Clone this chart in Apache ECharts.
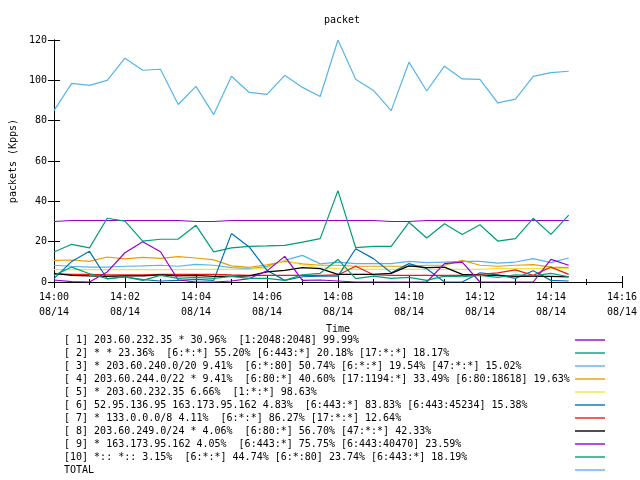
<!DOCTYPE html>
<html><head><meta charset="utf-8">
<script src="https://cdn.jsdelivr.net/npm/echarts@6/dist/echarts.min.js"></script>
<style>html,body{margin:0;padding:0;background:#fff}#c{width:640px;height:480px}</style>
</head><body><div id="c"></div>
<script>
const times = ['14:00:00','14:00:30','14:01:00','14:01:30','14:02:00','14:02:30','14:03:00','14:03:30','14:04:00','14:04:30',
  '14:05:00','14:05:30','14:06:00','14:06:30','14:07:00','14:07:30','14:08:00','14:08:30','14:09:00','14:09:30',
  '14:10:00','14:10:30','14:11:00','14:11:30','14:12:00','14:12:30','14:13:00','14:13:30','14:14:00','14:14:30'];
const xTickLabels = ['14:00','14:02','14:04','14:06','14:08','14:10','14:12','14:14','14:16'];
const dateLabel = '08/14';
const seriesNames = [
  '[ 1] 203.60.232.35 * 30.96%  [1:2048:2048] 99.99%',
  '[ 2] * * 23.36%  [6:*:*] 55.20% [6:443:*] 20.18% [17:*:*] 18.17%',
  '[ 3] * 203.60.240.0/20 9.41%  [6:*:80] 50.74% [6:*:*] 19.54% [47:*:*] 15.02%',
  '[ 4] 203.60.244.0/22 * 9.41%  [6:80:*] 40.60% [17:1194:*] 33.49% [6:80:18618] 19.63%',
  '[ 5] * 203.60.232.35 6.66%  [1:*:*] 98.63%',
  '[ 6] 52.95.136.95 163.173.95.162 4.83%  [6:443:*] 83.83% [6:443:45234] 15.38%',
  '[ 7] * 133.0.0.0/8 4.11%  [6:*:*] 86.27% [17:*:*] 12.64%',
  '[ 8] 203.60.249.0/24 * 4.06%  [6:80:*] 56.70% [47:*:*] 42.33%',
  '[ 9] * 163.173.95.162 4.05%  [6:443:*] 75.75% [6:443:40470] 23.59%',
  '[10] *:: *:: 3.15%  [6:*:*] 44.74% [6:*:80] 23.74% [6:443:*] 18.19%',
  'TOTAL'
];
const s1 = [30.0,30.5,30.5,30.5,30.5,30.5,30.5,30.5,30.0,30.0,30.5,30.5,30.5,30.5,30.5,30.5,30.5,30.5,30.5,30.0,30.0,30.5,30.5,30.5,30.5,30.5,30.5,30.5,30.5,30.5];
const s2 = [14.9,18.7,16.9,31.6,30.2,20.3,21.2,21.3,28.1,14.9,16.9,17.7,17.9,18.2,19.8,21.5,45.3,17.0,17.7,17.7,29.6,21.8,28.9,23.6,28.4,20.3,21.5,31.6,23.6,33.2];
const s3 = [8.3,7.8,7.4,7.4,7.8,8.0,8.3,7.8,8.7,8.3,7.1,6.6,7.6,10.7,13.2,9.0,9.9,9.1,9.1,9.1,10.2,9.6,9.9,10.2,10.2,9.4,9.9,11.6,9.6,11.9];
const s4 = [10.7,10.9,10.2,12.4,11.5,12.2,11.7,12.6,11.9,11.0,8.0,7.3,8.5,10.2,9.0,8.3,8.3,7.8,7.8,7.8,7.8,8.3,8.3,10.7,8.3,7.8,8.3,8.6,7.4,7.1];
const s5 = [6.1,6.1,6.1,6.1,6.1,6.1,6.1,6.1,6.3,6.3,6.3,6.3,7.0,10.9,8.3,7.2,6.6,6.3,6.3,6.3,6.3,6.3,6.3,6.3,6.3,6.8,6.6,6.6,6.6,6.6];
const s6 = [1.7,10.2,15.2,1.5,2.6,1.2,0.5,0.8,1.3,0.8,24.0,17.4,5.8,0.8,2.6,2.9,2.9,16.5,11.6,4.6,9.1,6.6,0.0,0.0,4.6,3.5,1.8,5.6,0.8,0.5];
const s7 = [4.1,3.8,3.8,3.5,3.5,3.5,3.8,3.8,3.8,3.8,3.5,3.3,3.3,3.3,3.3,3.3,3.5,7.8,3.6,3.3,3.3,3.3,3.3,3.3,3.8,4.5,6.0,3.3,7.4,3.8];
const s8 = [4.3,3.3,3.0,2.8,3.0,3.0,3.5,3.0,3.3,2.8,2.8,3.0,5.0,5.8,7.1,6.6,3.8,3.8,3.8,4.3,8.0,7.1,7.4,3.8,3.3,3.3,2.8,2.8,2.8,2.5];
const s9 = [1.0,0.2,0.0,5.0,14.5,20.0,15.0,1.0,0.0,0.0,0.5,1.7,5.5,12.7,0.8,1.0,0.5,0.0,0.0,0.0,0.0,0.0,9.1,9.9,0.0,0.0,0.0,0.0,11.2,8.3];
const s10 = [3.3,7.4,4.1,1.7,2.5,0.8,3.3,1.8,2.3,1.8,2.8,1.8,1.8,0.8,3.6,4.3,11.2,1.7,2.9,1.8,2.3,0.8,2.9,2.6,3.3,2.3,3.6,3.0,4.3,2.6];
const total = [85,98.5,97.5,100,111,105,105.5,88,97,83,102,94,93,102.5,96.5,92,120,100.5,95,85,109,94.7,107,100.7,100.5,88.8,90.7,102,103.8,104.5];
const colors = ['#9400d3','#009e73','#56b4e9','#e69f00','#f0e442','#0072b2','#e51e10','#000000','#9400d3','#009e73','#56b4e9'];
const allSeries = [s1,s2,s3,s4,s5,s6,s7,s8,s9,s10,total];

const FONT = 'DejaVu Sans Mono';
function toMin(t){ const p = t.split(':').map(Number); return (p[0]-14)*60 + p[1] + p[2]/60; }

const chart = echarts.init(document.getElementById('c'), null, {renderer:'canvas'});
const xCommon = {
  type:'value', min:0, max:16, interval:2,
  axisLine:{show:true, lineStyle:{color:'#000', width:1}},
  axisTick:{show:true, inside:true, length:6, lineStyle:{color:'#000'}},
  minorTick:{show:true, splitNumber:2, length:3, lineStyle:{color:'#000'}},
  splitLine:{show:false}
};
const yCommon = {
  type:'value', min:0, max:120, interval:20,
  axisLine:{show:true, lineStyle:{color:'#000', width:1}},
  axisTick:{show:true, inside:true, length:6, lineStyle:{color:'#000'}},
  splitLine:{show:false}
};
chart.setOption({
  animation:false,
  backgroundColor:'#fff',
  title:{text:'packet', left:319, top:10, textStyle:{fontFamily:FONT, fontSize:10, fontWeight:'normal', color:'#000'}},
  grid:{left:52, right:18, top:40, bottom:198, show:false},
  xAxis:[
    Object.assign({}, xCommon, {position:'bottom', name:'Time', nameLocation:'middle', nameGap:40,
      nameTextStyle:{fontFamily:FONT, fontSize:10, color:'#000'},
      axisLabel:{show:true, margin:8, lineHeight:15, fontFamily:FONT, fontSize:10, color:'#000',
        formatter:v => xTickLabels[Math.round(v/2)] + '\n' + dateLabel}}),
    Object.assign({}, xCommon, {position:'top', axisLabel:{show:false}})
  ],
  yAxis:[
    Object.assign({}, yCommon, {position:'left', name:'packets (Kpps)', nameLocation:'middle', nameGap:33, nameRotate:90,
      nameTextStyle:{fontFamily:FONT, fontSize:10, color:'#000'},
      axisLabel:{show:true, margin:7, fontFamily:FONT, fontSize:10, color:'#000'}}),
    Object.assign({}, yCommon, {position:'right', axisLabel:{show:false}})
  ],
  legend:{
    orient:'vertical', left:64, top:335, padding:0, itemGap:3,
    itemWidth:30, itemHeight:10, align:'right', selectedMode:false,
    icon:'path://M0,0H30V1.4H0Z', symbolKeepAspect:true,
    formatter: n => '{t|' + n + '}',
    textStyle:{fontFamily:FONT, fontSize:10, color:'#000',
      rich:{t:{width:506, align:'left', fontFamily:FONT, fontSize:10, color:'#000', lineHeight:10}}},
    data: seriesNames
  },
  series: allSeries.map((s, k) => ({
    name: seriesNames[k], type:'line', xAxisIndex:0, yAxisIndex:0,
    symbol:'none', smooth:false,
    color: colors[k],
    lineStyle:{width:1.2, color:colors[k]},
    data: times.map((t, i) => [toMin(t), s[i]])
  }))
});
</script>
</body></html>
